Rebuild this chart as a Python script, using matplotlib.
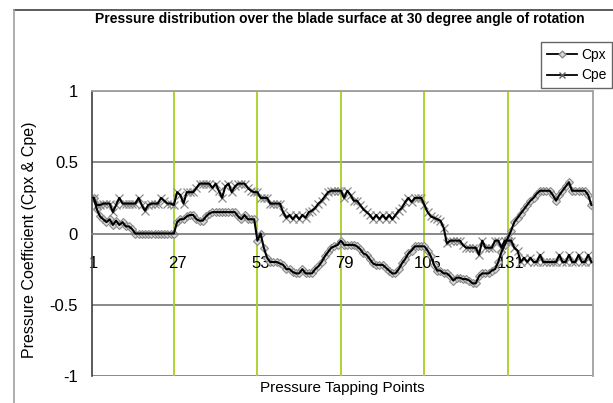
import matplotlib
matplotlib.use("Agg")
import matplotlib.pyplot as plt
from matplotlib import font_manager
from matplotlib.lines import Line2D

names = {f.name for f in font_manager.fontManager.ttflist}
FONT = "Liberation Sans Narrow" if "Liberation Sans Narrow" in names else "Liberation Sans"
plt.rcParams["font.family"] = [FONT, "DejaVu Sans"]

points = list(range(1, 157))

cpx = [0.25, 0.17, 0.12, 0.10, 0.08, 0.10, 0.06, 0.09, 0.06, 0.08,
       0.05, 0.05, 0.03, 0.00, 0.00, 0.00, 0.00, 0.00, 0.00, 0.00,
       0.00, 0.00, 0.00, 0.00, 0.00, 0.00, 0.08, 0.10, 0.10, 0.12,
       0.13, 0.13, 0.10, 0.09, 0.09, 0.12, 0.14, 0.15, 0.15, 0.15,
       0.15, 0.15, 0.15, 0.15, 0.15, 0.12, 0.10, 0.13, 0.10, 0.10,
       0.10, -0.05, 0.00, -0.10, -0.17, -0.20, -0.20, -0.20, -0.21, -0.22,
       -0.25, -0.25, -0.27, -0.28, -0.28, -0.25, -0.28, -0.28, -0.28, -0.25,
       -0.23, -0.20, -0.16, -0.13, -0.10, -0.09, -0.08, -0.05, -0.08, -0.08,
       -0.08, -0.08, -0.09, -0.11, -0.14, -0.15, -0.18, -0.21, -0.22, -0.22,
       -0.22, -0.24, -0.26, -0.28, -0.28, -0.25, -0.21, -0.18, -0.14, -0.12,
       -0.09, -0.09, -0.09, -0.09, -0.12, -0.16, -0.22, -0.26, -0.26, -0.28,
       -0.28, -0.30, -0.33, -0.31, -0.31, -0.32, -0.32, -0.33, -0.35, -0.35,
       -0.30, -0.28, -0.28, -0.28, -0.26, -0.25, -0.20, -0.13, -0.08, -0.03,
       0.02, 0.08, 0.11, 0.14, 0.17, 0.20, 0.23, 0.25, 0.28, 0.30,
       0.30, 0.30, 0.30, 0.27, 0.23, 0.27, 0.30, 0.33, 0.36, 0.30,
       0.30, 0.30, 0.30, 0.30, 0.27, 0.20]

cpe = [0.25, 0.20, 0.20, 0.21, 0.21, 0.21, 0.15, 0.20, 0.25, 0.21,
       0.21, 0.21, 0.21, 0.21, 0.25, 0.20, 0.16, 0.20, 0.21, 0.21,
       0.21, 0.25, 0.23, 0.21, 0.21, 0.20, 0.29, 0.27, 0.21, 0.29,
       0.29, 0.29, 0.32, 0.35, 0.35, 0.35, 0.35, 0.32, 0.35, 0.30,
       0.25, 0.33, 0.35, 0.29, 0.33, 0.35, 0.35, 0.35, 0.32, 0.30,
       0.29, 0.29, 0.25, 0.25, 0.25, 0.21, 0.21, 0.21, 0.21, 0.15,
       0.11, 0.13, 0.10, 0.13, 0.10, 0.13, 0.11, 0.15, 0.16, 0.18,
       0.21, 0.23, 0.26, 0.29, 0.30, 0.30, 0.30, 0.30, 0.25, 0.30,
       0.27, 0.23, 0.23, 0.20, 0.17, 0.15, 0.13, 0.10, 0.13, 0.10,
       0.13, 0.10, 0.13, 0.10, 0.13, 0.16, 0.18, 0.22, 0.25, 0.22,
       0.25, 0.25, 0.25, 0.20, 0.15, 0.12, 0.11, 0.10, 0.09, 0.04,
       -0.07, -0.05, -0.05, -0.05, -0.05, -0.08, -0.10, -0.10, -0.10, -0.10,
       -0.15, -0.05, -0.10, -0.10, -0.10, -0.05, -0.05, -0.10, -0.05, -0.05,
       -0.05, -0.10, -0.12, -0.20, -0.17, -0.20, -0.17, -0.20, -0.20, -0.15,
       -0.20, -0.20, -0.20, -0.20, -0.20, -0.15, -0.20, -0.20, -0.15, -0.20,
       -0.20, -0.15, -0.20, -0.20, -0.15, -0.20]

x_tick_values = [1, 27, 53, 79, 105, 131]
x_divisions = [26, 52, 78, 104, 130]
y_ticks = [-1, -0.5, 0, 0.5, 1]
y_tick_labels = ["-1", "-0.5", "0", "0.5", "1"]

W, H = 613, 403
fig = plt.figure(figsize=(W / 100, H / 100), dpi=100)
ax = fig.add_axes([92 / W, 1 - 376 / H, 501 / W, 285 / H])

# outer chart frame (top and left edges)
fig.add_artist(Line2D([14 / W, 1.0], [1 - 10 / H, 1 - 10 / H], transform=fig.transFigure,
                      color="#404040", lw=1.2))
fig.add_artist(Line2D([14 / W, 14 / W], [1 - 10 / H, 0.0], transform=fig.transFigure,
                      color="#a0a0a0", lw=1.2))

ax.set_xlim(0.5, 156.5)
ax.set_ylim(-1, 1)

for yv in [-1, -0.5, 0.5, 1]:
    ax.axhline(yv, color="#808080", lw=1.3, zorder=1)
for xv in x_divisions:
    ax.axvline(xv, color="#a8d020", lw=1.3, zorder=1)

# markers underneath, black connecting line on top
ax.plot(points, cpx, linestyle="none", marker="D", markersize=4,
        markerfacecolor="#d8d8d8", markeredgecolor="#8a8a8a", markeredgewidth=0.8, zorder=2)
ax.plot(points, cpe, linestyle="none", marker="x", markersize=5.5,
        markeredgecolor="#8a8a8a", markeredgewidth=0.9, zorder=2)
ax.plot(points, cpx, color="black", lw=1.5, zorder=3)
ax.plot(points, cpe, color="black", lw=1.5, zorder=3)

for side in ["top", "right"]:
    ax.spines[side].set_color("#a0a0a0")
    ax.spines[side].set_linewidth(1.3)
ax.spines["left"].set_color("#404040")
ax.spines["left"].set_linewidth(1.2)
ax.spines["bottom"].set_position(("data", 0))
ax.spines["bottom"].set_color("#808080")
ax.spines["bottom"].set_linewidth(1.3)

ax.set_xticks(x_tick_values)
ax.set_xticklabels([str(v) for v in x_tick_values], fontsize=12)
ax.tick_params(axis="x", length=0, pad=16)
ax.set_yticks(y_ticks)
ax.set_yticklabels(y_tick_labels, fontsize=12)
ax.tick_params(axis="y", length=0, pad=10)

fig.text(0.5 * (95 + 585) / W, 1 - 19 / H,
         "Pressure distribution over the blade surface at 30 degree angle of rotation",
         ha="center", va="center", fontsize=10, fontweight="bold")
fig.text(30 / W, 1 - 240 / H, "Pressure Coefficient (Cpx & Cpe)", rotation=90,
         ha="center", va="center", fontsize=11.5)
fig.text(342 / W, 1 - 388 / H, "Pressure Tapping Points", ha="center", va="center",
         fontsize=11)

handles = [
    Line2D([], [], color="black", lw=1.3, marker="D", markersize=3.5,
           markerfacecolor="#d8d8d8", markeredgecolor="#8a8a8a"),
    Line2D([], [], color="black", lw=1.3, marker="x", markersize=5,
           markeredgecolor="#606060"),
]
leg = ax.legend(handles, ["Cpx", "Cpe"], loc="upper left",
                bbox_to_anchor=(541 / W, 1 - 42 / H),
                bbox_transform=fig.transFigure, fontsize=10, frameon=True,
                fancybox=False, edgecolor="#404040", borderpad=0.4,
                handlelength=2.2, handletextpad=0.3, labelspacing=0.5,
                borderaxespad=0)
leg.get_frame().set_linewidth(1.0)

fig.savefig("out.png", dpi=100)
